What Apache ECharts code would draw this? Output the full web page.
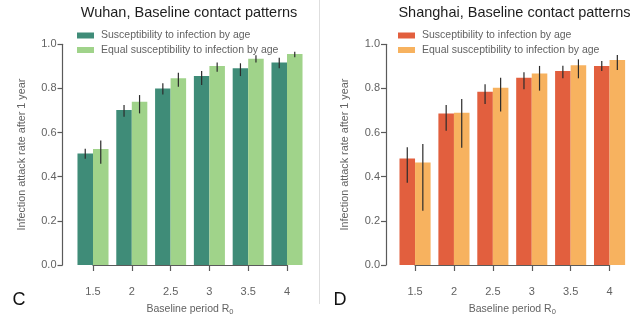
<!DOCTYPE html>
<html>
<head>
<meta charset="utf-8">
<script src="https://cdn.jsdelivr.net/npm/echarts@6/dist/echarts.min.js"></script>
<style>
  html, body { margin: 0; padding: 0; background: #fff; }
  #chart { width: 640px; height: 329px; }
</style>
</head>
<body>
<div id="chart"></div>
<script>
// Basic reproduction number values on the x axis
const r0Labels = ['1.5', '2', '2.5', '3', '3.5', '4'];
const seriesNames = ['Susceptibility to infection by age', 'Equal susceptibility to infection by age'];

// Wuhan: attack rate with age-dependent susceptibility
const wuhanAge     = [0.505, 0.702, 0.800, 0.856, 0.891, 0.917];
const wuhanAgeLow  = [0.481, 0.672, 0.773, 0.816, 0.856, 0.891];
const wuhanAgeHigh = [0.527, 0.725, 0.823, 0.879, 0.914, 0.939];
// Wuhan: attack rate with equal susceptibility
const wuhanEq      = [0.526, 0.740, 0.846, 0.902, 0.935, 0.956];
const wuhanEqLow   = [0.459, 0.687, 0.808, 0.876, 0.917, 0.941];
const wuhanEqHigh  = [0.564, 0.770, 0.871, 0.918, 0.950, 0.966];

// Shanghai: attack rate with age-dependent susceptibility
const shanghaiAge     = [0.483, 0.687, 0.785, 0.849, 0.879, 0.902];
const shanghaiAgeLow  = [0.373, 0.608, 0.730, 0.796, 0.846, 0.879];
const shanghaiAgeHigh = [0.533, 0.725, 0.819, 0.873, 0.903, 0.924];
// Shanghai: attack rate with equal susceptibility
const shanghaiEq      = [0.464, 0.690, 0.803, 0.868, 0.905, 0.929];
const shanghaiEqLow   = [0.246, 0.531, 0.695, 0.790, 0.846, 0.884];
const shanghaiEqHigh  = [0.548, 0.752, 0.849, 0.902, 0.932, 0.951];

const yTicks = { min: 0, max: 1, interval: 0.2 };

const FONT = 'Liberation Sans, Arial, sans-serif';
const AXIS_GREY = '#5a5a5a';
const TEXT_GREY = '#626262';

const panels = [
  { title: 'Wuhan, Baseline contact patterns', letter: 'C',
    colors: ['#3f8c78', '#a0d38a'],
    age: [wuhanAge, wuhanAgeLow, wuhanAgeHigh], eq: [wuhanEq, wuhanEqLow, wuhanEqHigh],
    plotLeft: 73.6, band: 38.8, yAxisX: 62.5, titleX: 184, letterX: 18.5, legendX: 72 },
  { title: 'Shanghai, Baseline contact patterns', letter: 'D',
    colors: ['#e25f3e', '#f7b25f'],
    age: [shanghaiAge, shanghaiAgeLow, shanghaiAgeHigh], eq: [shanghaiEq, shanghaiEqLow, shanghaiEqHigh],
    plotLeft: 395.6, band: 38.9, yAxisX: 386, titleX: 509.5, letterX: 339.5, legendX: 393 }
];

const plotTop = 44.3, plotHeight = 220.7;

const option = {
  animation: false,
  textStyle: { fontFamily: FONT },
  title: [], legend: [], grid: [], xAxis: [], yAxis: [], series: [],
  graphic: [
    { type: 'line', shape: { x1: 319.5, y1: 0, x2: 319.5, y2: 304 },
      style: { stroke: '#dedede', lineWidth: 1 }, silent: true }
  ]
};

// error bar drawn at the centre of the left (side -1) or right (side +1) bar
function errorBar(side) {
  return function (params, api) {
    const c = api.value(0);
    const lo = api.coord([c, api.value(1)]);
    const hi = api.coord([c, api.value(2)]);
    const band = api.size([1, 0])[0];
    const dx = side * band * 0.2;
    return {
      type: 'line',
      shape: { x1: lo[0] + dx, y1: lo[1], x2: hi[0] + dx, y2: hi[1] },
      style: { stroke: '#2b2b2b', lineWidth: 1.2 }
    };
  };
}

panels.forEach((p, i) => {
  const g = i * 2;
  const plotWidth = p.band * r0Labels.length;

  option.title.push({
    text: p.title, left: p.titleX, top: 0, textAlign: 'center',
    textStyle: { fontFamily: FONT, fontSize: 14.5, fontWeight: 'normal', color: '#1e1e1e' }
  });

  option.legend.push({
    orient: 'vertical', left: p.legendX, top: 25, itemWidth: 17, itemHeight: 6, itemGap: 3.5,
    icon: 'rect',
    textStyle: { fontFamily: FONT, fontSize: 10.5, color: TEXT_GREY, padding: [0, 0, 0, 2] },
    data: seriesNames.map((n, k) => ({ name: n, itemStyle: { color: p.colors[k] } }))
  });

  // bar grid and separate axis grid spanning first to last category centre
  option.grid.push({ left: p.plotLeft, top: plotTop, width: plotWidth, height: plotHeight });
  option.grid.push({ left: p.plotLeft + p.band / 2, top: plotTop, width: p.band * (r0Labels.length - 1), height: plotHeight });

  option.xAxis.push({ gridIndex: g, type: 'category', data: r0Labels, show: false });
  option.xAxis.push({
    gridIndex: g + 1, type: 'category', data: r0Labels, boundaryGap: false, offset: 9,
    axisLine: { lineStyle: { color: AXIS_GREY, width: 1.2 } },
    axisTick: { length: 6, lineStyle: { color: AXIS_GREY, width: 1.2 } },
    axisLabel: { color: TEXT_GREY, fontSize: 11, margin: 12, fontFamily: FONT },
    name: '{a|Baseline period R}{s|0}', nameLocation: 'middle', nameGap: 29,
    nameTextStyle: {
      rich: {
        a: { fontFamily: FONT, fontSize: 10.5, color: TEXT_GREY },
        s: { fontFamily: FONT, fontSize: 7.5, color: TEXT_GREY, verticalAlign: 'bottom', padding: [5, 0, 0, 0] }
      }
    }
  });

  option.yAxis.push({
    gridIndex: g, type: 'value', min: yTicks.min, max: yTicks.max, interval: yTicks.interval,
    offset: p.plotLeft - p.yAxisX,
    splitLine: { show: false },
    axisLine: { show: true, lineStyle: { color: AXIS_GREY, width: 1.2 } },
    axisTick: { show: true, length: 5, lineStyle: { color: AXIS_GREY, width: 1.2 } },
    axisLabel: { color: TEXT_GREY, fontSize: 11, margin: 6, fontFamily: FONT, formatter: v => v.toFixed(1) },
    name: 'Infection attack rate after 1 year', nameLocation: 'middle', nameGap: 35,
    nameTextStyle: { color: TEXT_GREY, fontSize: 10.8, fontFamily: FONT }
  });
  option.yAxis.push({ gridIndex: g + 1, type: 'value', min: 0, max: 1, show: false });

  const sets = [p.age, p.eq];
  sets.forEach((s, k) => {
    option.series.push({
      type: 'bar', name: seriesNames[k], xAxisIndex: g, yAxisIndex: g,
      data: s[0], barGap: '0%', barCategoryGap: '20%',
      itemStyle: { color: p.colors[k] }
    });
  });
  sets.forEach((s, k) => {
    option.series.push({
      type: 'custom', name: 'err' + i + k, xAxisIndex: g, yAxisIndex: g, z: 5,
      renderItem: errorBar(k === 0 ? -1 : 1),
      data: s[0].map((_, j) => [j, s[1][j], s[2][j]])
    });
  });

  option.graphic.push({
    type: 'text', left: p.letterX - 6, top: 291,
    style: { text: p.letter, fontFamily: FONT, fontSize: 18, fill: '#111' }
  });
});

const chart = echarts.init(document.getElementById('chart'), null, { renderer: 'canvas' });
chart.setOption(option);
</script>
</body>
</html>
